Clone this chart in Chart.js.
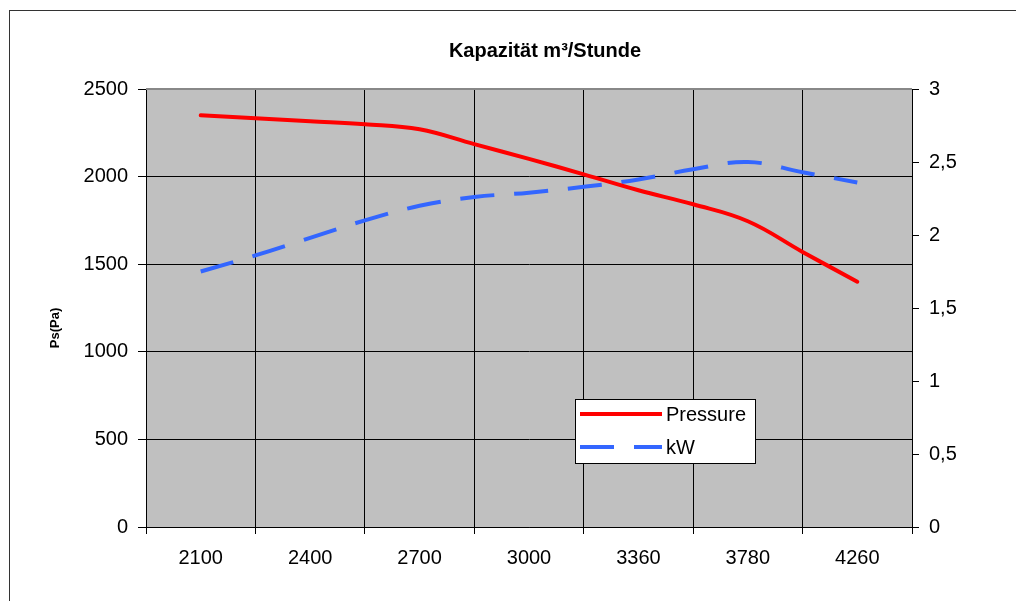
<!DOCTYPE html>
<html>
<head>
<meta charset="utf-8">
<script src="https://cdn.jsdelivr.net/npm/chart.js@4.4.0/dist/chart.umd.min.js"></script>
<style>
  html, body { margin: 0; padding: 0; background: #fff; overflow: hidden; }
  #frame { position: absolute; left: 9px; top: 10px; width: 1200px; height: 800px; border: 1px solid #333; }
  #chart { position: absolute; left: 0; top: 0; }
</style>
</head>
<body>
<div id="frame"></div>
<canvas id="chart" width="1090" height="601"></canvas>
<script>
// Kapazität (m³/h) – beschriftete Kategorien
const capacity = ['2100', '2400', '2700', '3000', '3360', '3780', '4260'];
// Messpunkte: je halber Kategorieschritt
const pressure = [2350, 2333, 2316, 2299, 2270, 2185, 2101, 2013, 1922, 1842, 1745, 1570, 1400];
const power = [1.75, 1.86, 1.98, 2.10, 2.20, 2.26, 2.29, 2.33, 2.38, 2.45, 2.50, 2.43, 2.36];
const pressureTicks = [0, 500, 1000, 1500, 2000, 2500];
const powerTicks = [0, 0.5, 1, 1.5, 2, 2.5, 3];

const FONT = "'Liberation Sans', Arial, sans-serif";
const RED = '#ff0000';
const BLUE = '#3366ff';

const toPoints = arr => arr.map((v, i) => ({ x: i / 2, y: v }));

// Hintergrund der Zeichenfläche, Legende und Achsentitel
const excelLook = {
  id: 'excelLook',
  beforeDraw(chart) {
    const { ctx, chartArea: a } = chart;
    ctx.save();
    ctx.fillStyle = '#c0c0c0';
    ctx.fillRect(a.left, a.top, a.right - a.left, a.bottom - a.top);
    ctx.restore();
  },
  afterDraw(chart) {
    const { ctx, chartArea: a } = chart;
    ctx.save();
    // oberer Rand der Zeichenfläche
    ctx.strokeStyle = '#888';
    ctx.lineWidth = 2;
    ctx.beginPath();
    ctx.moveTo(a.left, a.top);
    ctx.lineTo(a.right, a.top);
    ctx.stroke();

    // y-Achsentitel
    ctx.translate(55, 328);
    ctx.rotate(-Math.PI / 2);
    ctx.fillStyle = '#000';
    ctx.font = 'bold 13px ' + FONT;
    ctx.textAlign = 'center';
    ctx.textBaseline = 'middle';
    ctx.fillText('Ps(Pa)', 0, 0);
    ctx.restore();

    // Legende
    const bx = 575.5, by = 399.5, bw = 180, bh = 64;
    ctx.save();
    ctx.fillStyle = '#fff';
    ctx.fillRect(bx, by, bw, bh);
    ctx.strokeStyle = '#000';
    ctx.lineWidth = 1;
    ctx.strokeRect(bx, by, bw, bh);
    chart.data.datasets.forEach((ds, i) => {
      const y = 414 + i * 33;
      ctx.strokeStyle = ds.borderColor;
      ctx.lineWidth = 4;
      ctx.setLineDash(ds.borderDash || []);
      ctx.beginPath();
      ctx.moveTo(580, y);
      ctx.lineTo(662, y);
      ctx.stroke();
      ctx.setLineDash([]);
      ctx.fillStyle = '#000';
      ctx.font = '20px ' + FONT;
      ctx.textAlign = 'left';
      ctx.textBaseline = 'middle';
      ctx.fillText(ds.label, 666, y + 1);
    });
    ctx.restore();
  }
};

new Chart(document.getElementById('chart').getContext('2d'), {
  type: 'line',
  data: {
    datasets: [
      { label: 'Pressure', data: toPoints(pressure), yAxisID: 'y', borderColor: RED, borderWidth: 4, pointRadius: 0, tension: 0.4, borderCapStyle: 'round' },
      { label: 'kW', data: toPoints(power), yAxisID: 'y1', borderColor: BLUE, borderWidth: 4, borderDash: [34, 20], pointRadius: 0, tension: 0.4 }
    ]
  },
  options: {
    responsive: false, animation: false,
    layout: { padding: 0 },
    plugins: {
      legend: { display: false },
      tooltip: { enabled: false },
      title: { display: true, text: 'Kapazität m³/Stunde', color: '#000', font: { family: FONT, size: 20, weight: 'bold' }, padding: { top: 39, bottom: 26 } }
    },
    scales: {
      x: {
        type: 'linear', min: -0.5, max: capacity.length - 0.5,
        afterFit: s => { s.height = 74; },
        grid: { color: c => (c.tick && Math.abs(c.tick.value % 1) === 0.5) ? '#000' : 'rgba(0,0,0,0)', lineWidth: 1, tickLength: 7 },
        border: { color: '#000', width: 1 },
        ticks: { stepSize: 0.5, autoSkip: false, maxRotation: 0, padding: 12, color: '#000', font: { family: FONT, size: 20 },
          callback: v => Number.isInteger(v) ? capacity[v] : '' }
      },
      y: {
        position: 'left', min: 0, max: pressureTicks[pressureTicks.length - 1],
        afterFit: s => { s.width = 146; },
        afterBuildTicks: s => { s.ticks = pressureTicks.map(v => ({ value: v })); },
        grid: { color: '#000', lineWidth: 1, tickLength: 8 },
        border: { color: '#000', width: 1 },
        ticks: { padding: 10, color: '#000', font: { family: FONT, size: 20 },
          callback: v => String(v) }
      },
      y1: {
        position: 'right', min: 0, max: powerTicks[powerTicks.length - 1],
        afterFit: s => { s.width = 1090 - 912; },
        afterBuildTicks: s => { s.ticks = powerTicks.map(v => ({ value: v })); },
        grid: { drawOnChartArea: false, color: '#000', lineWidth: 1, tickLength: 7 },
        border: { color: '#000', width: 1 },
        ticks: { padding: 10, color: '#000', font: { family: FONT, size: 20 },
          callback: v => String(v).replace('.', ',') }
      }
    }
  },
  plugins: [excelLook]
});
</script>
</body>
</html>
